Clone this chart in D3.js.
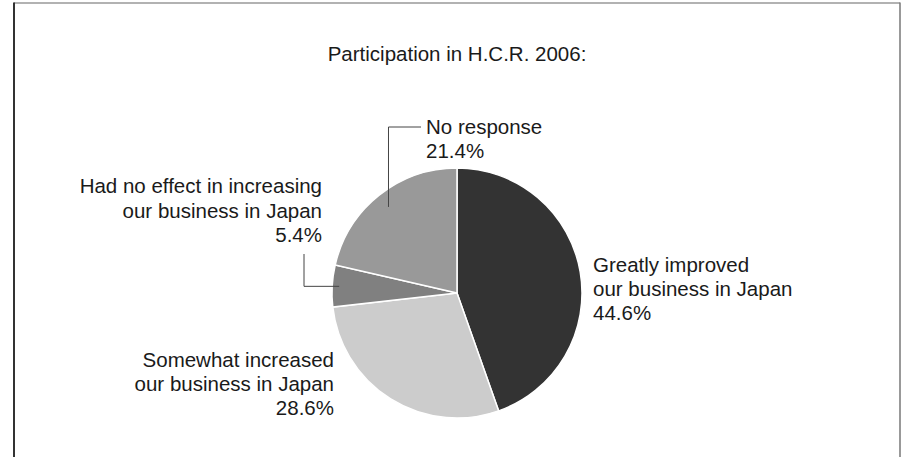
<!DOCTYPE html>
<html>
<head>
<meta charset="utf-8">
<script src="https://cdn.jsdelivr.net/npm/d3@7/dist/d3.min.js"></script>
<style>
  html, body { margin: 0; padding: 0; background: #fff; }
  svg { display: block; }
  text { font-family: "Liberation Sans", Arial, Helvetica, sans-serif; fill: #1a1a1a; }
</style>
</head>
<body>
<svg id="chart" width="909" height="457"></svg>
<script>
// ---- data ----
const title = "Participation in H.C.R. 2006:";
const categories = [
  "Greatly improved|our business in Japan",
  "Somewhat increased|our business in Japan",
  "Had no effect in increasing|our business in Japan",
  "No response"
];
const values = [44.6, 28.6, 5.4, 21.4];
const colors = ["#333333", "#cccccc", "#808080", "#999999"];

// ---- layout ----
const W = 909, H = 457;
const cx = 457, cy = 293, R = 125;
const fontSize = 20.5, lineH = 24;

const svg = d3.select("#chart");

// frame
svg.append("line").attr("x1", 14).attr("y1", 3).attr("x2", 900).attr("y2", 3)
  .attr("stroke", "#666").attr("stroke-width", 1.2);
svg.append("line").attr("x1", 14).attr("y1", 2.5).attr("x2", 14).attr("y2", H)
  .attr("stroke", "#333").attr("stroke-width", 2);
svg.append("line").attr("x1", 900).attr("y1", 2.5).attr("x2", 900).attr("y2", H)
  .attr("stroke", "#777").attr("stroke-width", 1.5);

// title
svg.append("text").attr("x", cx).attr("y", 61).attr("text-anchor", "middle")
  .attr("font-size", fontSize).text(title);

const data = categories.map((c, i) => ({ label: c, value: values[i], color: colors[i] }));
const pie = d3.pie().value(d => d.value).sort(null);
const arcs = pie(data);
const arc = d3.arc().innerRadius(0).outerRadius(R);

const g = svg.append("g").attr("transform", `translate(${cx},${cy})`);
g.selectAll("path").data(arcs).join("path")
  .attr("d", arc)
  .attr("fill", d => d.data.color)
  .attr("stroke", "#fff")
  .attr("stroke-width", 1.5);

function pt(a, r) { return [Math.sin(a) * r, -Math.cos(a) * r]; }
function mid(d) { return (d.startAngle + d.endAngle) / 2; }

// label layout (relative to chart center)
const labelLayout = [
  { x: 593 - cx, y: 272 - cy, anchor: "start" },
  { x: 334 - cx, y: 367 - cy, anchor: "end" },
  { x: 322 - cx, y: 193 - cy, anchor: "end", leader: "elbowUp", r: 118, kneeX: 304 - cx, topY: 254 - cy, lh: 24.5 },
  { x: 426 - cx, y: 134 - cy, anchor: "start", leader: "upRight", r: 110, lineY: 127 - cy, endX: 421 - cx }
];

arcs.forEach((d, i) => {
  const L = labelLayout[i];
  const lines = d.data.label.split("|").concat([d.data.value.toFixed(1) + "%"]);
  const t = g.append("text").attr("font-size", fontSize).attr("text-anchor", L.anchor);
  const lh = L.lh || lineH;
  lines.forEach((s, k) => {
    t.append("tspan").attr("x", L.x).attr("y", L.y + k * lh).text(s);
  });
  if (L.leader === "elbowUp") {
    const p = pt(mid(d), L.r);
    g.append("path")
      .attr("d", `M${p[0]},${p[1]} H${L.kneeX} V${L.topY}`)
      .attr("fill", "none").attr("stroke", "#444").attr("stroke-width", 1);
  } else if (L.leader === "upRight") {
    const p = pt(mid(d), L.r);
    g.append("path")
      .attr("d", `M${p[0]},${p[1]} V${L.lineY} H${L.endX}`)
      .attr("fill", "none").attr("stroke", "#444").attr("stroke-width", 1);
  }
});
</script>
</body>
</html>
